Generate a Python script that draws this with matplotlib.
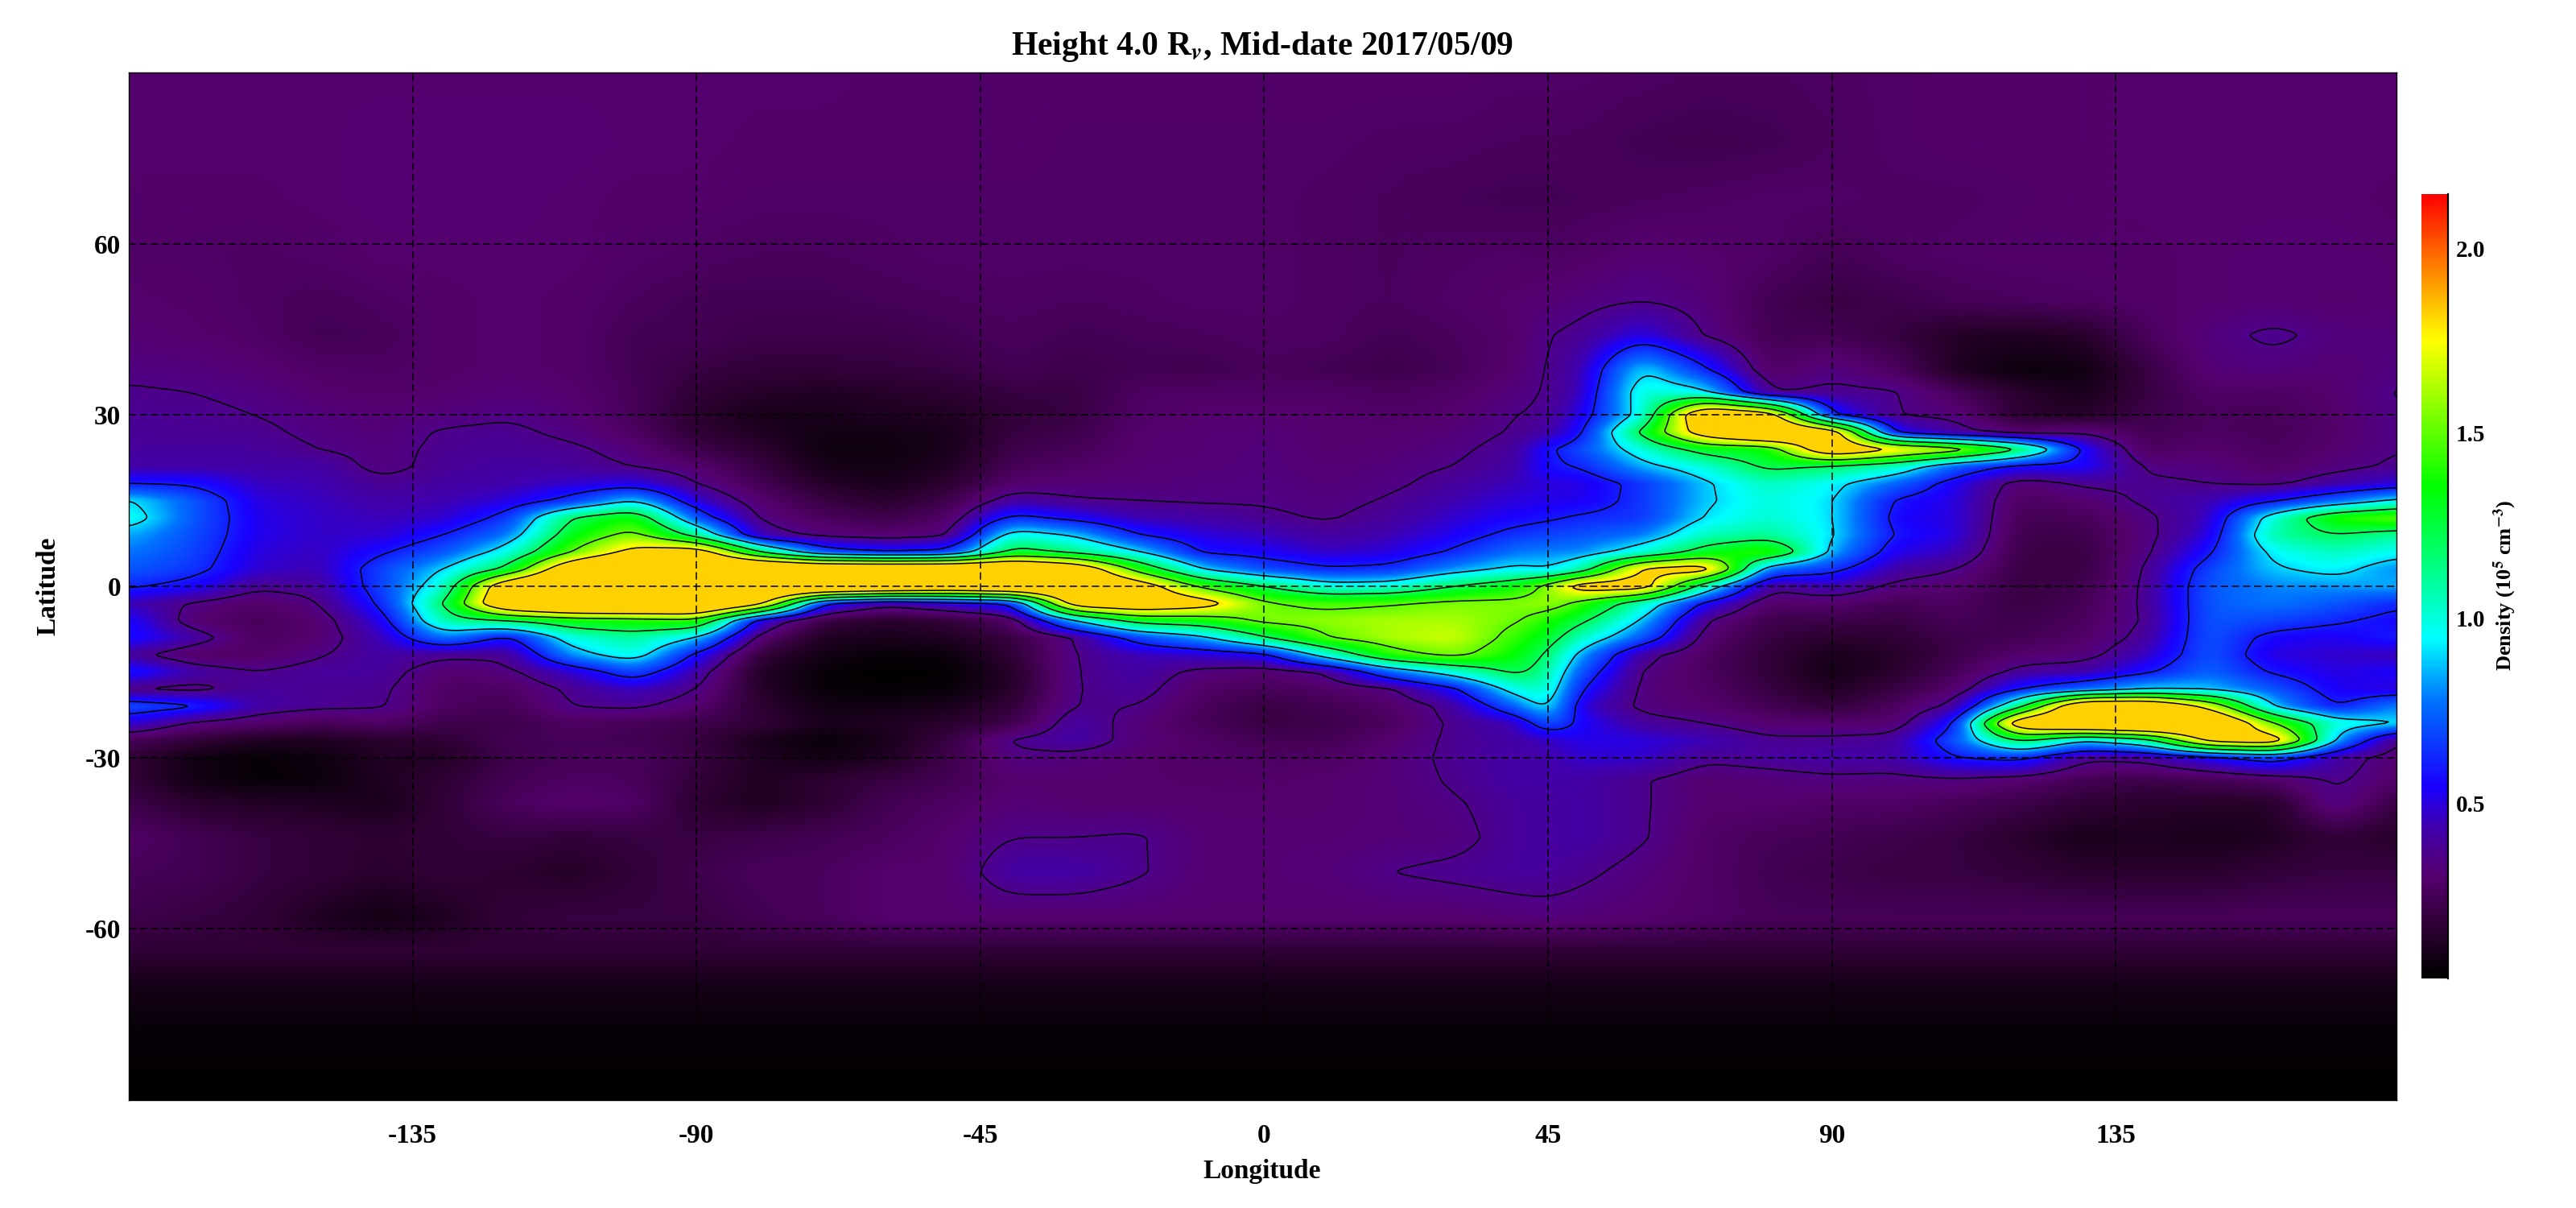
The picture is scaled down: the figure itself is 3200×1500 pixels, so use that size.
import numpy as np
import matplotlib
matplotlib.use('Agg')
import matplotlib.pyplot as plt
from matplotlib.colors import LinearSegmentedColormap

plt.rcParams['font.family'] = ['Liberation Serif', 'DejaVu Serif']
plt.rcParams['font.weight'] = 'bold'
plt.rcParams['mathtext.fontset'] = 'stix'
plt.rcParams['axes.unicode_minus'] = False

lons = [-180, -170, -160, -150, -140, -130, -120, -110, -100, -90, -80, -70, -60, -50, -40, -30, -20, -10,
        0, 10, 20, 30, 40, 45, 50, 60, 70, 80, 90, 100, 110, 120, 130, 140, 150, 160, 170, 180]
lats = [90, 78, 68, 58, 50, 44, 38, 34, 30, 27, 24, 21, 18, 15, 12, 9, 6, 3, 0,
        -3, -6, -9, -12, -15, -18, -21, -24, -27, -30, -34, -38, -44, -50, -58,
        -64, -70, -78, -90]
polar_cap = [.17, .09, .05, .03]

density_by_lon = [
    [.30,.30,.29,.28,.30,.31,.34,.37,.38, .39,.40,.42,.60,.92,.98,.85,.78,.72, .62,.45,.56,.58,.40,.60,.35,.70,.50, .25,.18,.18,.22,.28,.25,.22],
    [.30,.30,.29,.28,.29,.30,.33,.36,.38, .38,.40,.42,.58,.72,.72,.70,.68,.65, .55,.35,.30,.42,.28,.42,.33,.62,.34, .18,.08,.08,.15,.24,.24,.20],
    [.30,.30,.29,.27,.27,.28,.31,.34,.36, .38,.40,.42,.46,.50,.52,.52,.50,.48, .38,.28,.25,.26,.28,.36,.40,.42,.30, .12,.05,.05,.13,.20,.20,.18],
    [.30,.30,.30,.28,.25,.24,.28,.30,.33, .34,.36,.42,.44,.46,.47,.47,.46,.44, .40,.35,.30,.30,.35,.40,.38,.38,.25, .12,.07,.06,.12,.18,.18,.12],
    [.30,.31,.31,.30,.27,.25,.27,.29,.31, .32,.33,.33,.38,.42,.45,.48,.58,.68, .68,.62,.52,.45,.42,.40,.38,.37,.28, .15,.13,.12,.10,.16,.15,.08],
    [.30,.31,.31,.30,.29,.29,.29,.30,.33, .37,.38,.39,.41,.44,.48,.60,.72,.90, 1.02,1.2,1.1,.80,.38,.30,.27,.27,.22, .17,.13,.17,.18,.18,.18,.12],
    [.30,.31,.31,.30,.30,.30,.30,.32,.35, .38,.39,.41,.43,.50,.65,.78,.98,1.25, 2.1,2.2,1.2,.55,.38,.33,.27,.24,.22, .24,.22,.24,.26,.20,.16,.18],
    [.30,.31,.30,.30,.29,.29,.29,.30,.32, .34,.38,.40,.48,.65,1.2,1.32,1.5,2.1, 2.4,2.4,1.35,1.0,.82,.48,.38,.36,.27, .25,.25,.27,.30,.18,.13,.20],
    [.30,.30,.29,.28,.26,.24,.24,.25,.25, .27,.32,.36,.52,.92,1.38,1.58,1.9,2.4, 2.4,2.4,1.4,1.1,1.0,.70,.47,.38,.25, .24,.26,.26,.28,.20,.18,.20],
    [.30,.30,.29,.27,.24,.24,.20,.17,.15, .17,.22,.30,.36,.48,.70,1.12,2.0,2.4, 2.4,2.4,1.45,.90,.56,.42,.36,.30,.22, .20,.20,.18,.16,.20,.22,.20],
    [.30,.29,.28,.26,.24,.22,.18,.14,.10, .12,.16,.20,.24,.30,.34,.42,1.2,2.4, 2.4,1.9,.50,.30,.18,.13,.14,.16,.18, .10,.12,.12,.12,.22,.26,.24],
    [.30,.29,.28,.26,.24,.22,.18,.12,.10, .08,.07,.09,.14,.20,.26,.33,.70,2.3, 2.4,.60,.20,.12,.08,.05,.05,.08,.10, .05,.08,.16,.16,.24,.26,.26],
    [.29,.29,.28,.27,.25,.22,.19,.14,.12, .08,.07,.08,.10,.15,.22,.30,.60,2.3, 2.3,.40,.15,.10,.05,.03,.04,.08,.12, .10,.12,.20,.24,.26,.30,.30],
    [.29,.29,.28,.28,.26,.24,.20,.16,.12, .10,.10,.12,.16,.22,.28,.34,.65,2.3, 2.2,.50,.18,.12,.06,.04,.05,.10,.15, .20,.22,.24,.27,.30,.30,.30],
    [.29,.29,.28,.28,.27,.26,.24,.20,.18, .20,.22,.25,.30,.42,.65,1.0,1.3,2.3, 2.3,.60,.28,.20,.17,.14,.14,.18,.22, .37,.34,.30,.32,.36,.42,.30],
    [.29,.28,.28,.28,.26,.24,.22,.20,.20, .22,.25,.28,.32,.37,.55,.88,1.15,2.1, 2.3,2.0,.90,.36,.36,.36,.36,.37,.42, .42,.33,.30,.30,.36,.42,.30],
    [.29,.28,.28,.28,.27,.25,.24,.27,.28, .30,.30,.31,.32,.36,.44,.60,.92,1.4, 2.0,2.1,1.3,.68,.45,.42,.40,.36,.32, .32,.30,.30,.30,.37,.37,.30],
    [.29,.28,.28,.28,.28,.26,.23,.28,.30, .31,.31,.32,.33,.35,.42,.50,.58,.90, 1.45,1.95,1.35,.85,.48,.33,.28,.26,.25, .28,.28,.29,.30,.31,.31,.30],
    [.29,.28,.28,.28,.28,.27,.26,.28,.30, .32,.33,.33,.34,.35,.38,.46,.54,.70, 1.2,1.52,1.55,1.18,.55,.30,.25,.20,.20, .24,.27,.29,.30,.31,.31,.30],
    [.29,.28,.27,.27,.27,.27,.24,.28,.30, .30,.30,.31,.32,.33,.35,.40,.47,.62, .98,1.45,1.58,1.5,1.0,.37,.28,.24,.22, .24,.27,.30,.30,.31,.32,.30],
    [.29,.27,.26,.26,.26,.24,.22,.26,.28, .30,.31,.33,.34,.37,.40,.44,.50,.64, 1.0,1.48,1.62,1.62,1.42,.75,.34,.28,.26, .30,.32,.32,.32,.32,.36,.30],
    [.29,.27,.25,.27,.28,.26,.25,.28,.30, .32,.34,.36,.40,.44,.48,.53,.62,.82, 1.2,1.55,1.62,1.68,1.55,1.0,.56,.40,.38, .38,.38,.37,.35,.33,.38,.30],
    [.28,.26,.24,.28,.30,.29,.30,.33,.36, .37,.40,.42,.46,.50,.55,.65,.78,.95, 1.35,1.55,1.52,1.42,1.35,1.25,1.0,.75,.45, .42,.42,.42,.40,.40,.40,.32],
    [.28,.26,.24,.27,.31,.36,.37,.37,.38, .42,.58,.58,.50,.52,.58,.68,.80,.90, 1.55,1.60,1.40,1.30,1.18,1.10,1.05,.98,.75, .46,.42,.42,.40,.40,.40,.33],
    [.28,.26,.25,.28,.33,.38,.42,.44,.50, .55,.68,.60,.50,.52,.62,.70,.80,1.05, 1.95,1.45,1.25,1.05,.85,.72,.60,.50,.55, .52,.48,.42,.42,.42,.38,.32],
    [.27,.24,.26,.31,.36,.52,.92,1.02,.98, 1.25,1.0,.85,.65,.65,.65,.78,1.0,1.85, 1.95,1.05,.88,.72,.40,.34,.33,.33,.40, .50,.48,.37,.37,.37,.33,.30],
    [.26,.23,.27,.30,.32,.35,.62,.95,2.2, 2.0,1.3,1.0,.88,.88,.92,1.05,1.3,1.95, 1.05,.55,.36,.30,.27,.27,.28,.30,.36, .45,.38,.30,.30,.28,.28,.28],
    [.26,.24,.28,.28,.24,.24,.27,.36,2.0, 2.3,1.35,1.25,1.05,1.0,1.02,1.12,1.45,.75, .38,.28,.22,.20,.18,.18,.20,.24,.30, .38,.40,.32,.30,.25,.24,.25],
    [.27,.26,.28,.24,.20,.24,.34,.38,.60, 2.0,2.1,1.18,.95,.92,.92,.92,.85,.65, .45,.30,.22,.15,.10,.09,.12,.18,.30, .38,.42,.34,.28,.24,.22,.25],
    [.28,.28,.27,.27,.22,.20,.27,.37,.36, .55,1.8,1.05,.75,.58,.55,.58,.52,.42, .33,.25,.20,.17,.14,.15,.20,.26,.30, .40,.42,.33,.28,.22,.20,.25],
    [.29,.29,.27,.28,.25,.13,.12,.25,.33, .40,1.6,.72,.52,.50,.50,.50,.45,.36, .30,.27,.25,.22,.22,.25,.30,.40,.60, .72,.60,.34,.25,.20,.20,.25],
    [.29,.29,.28,.29,.26,.12,.06,.15,.16, .30,1.2,.55,.30,.26,.24,.22,.21,.20, .20,.20,.22,.24,.30,.40,.60,1.15,2.1, 1.25,.65,.30,.22,.15,.18,.25],
    [.29,.29,.29,.29,.27,.14,.07,.10,.14, .34,.55,.55,.38,.30,.25,.22,.20,.20, .22,.24,.26,.28,.32,.42,.75,2.2,2.3, .90,.38,.24,.17,.10,.15,.25],
    [.30,.30,.30,.29,.29,.26,.20,.20,.22, .24,.26,.34,.38,.38,.34,.33,.34,.37, .38,.38,.37,.40,.46,.58,.90,2.2,2.4, 1.1,.40,.22,.15,.12,.15,.25],
    [.30,.30,.30,.30,.30,.33,.32,.28,.26, .27,.30,.33,.36,.44,.46,.50,.58,.68, .72,.72,.72,.72,.72,.75,.88,1.7,2.3, 1.9,.55,.24,.14,.10,.15,.25],
    [.30,.30,.30,.31,.31,.38,.33,.27,.25, .25,.26,.28,.34,.58,1.0,1.08,.95,.88, .80,.78,.68,.55,.50,.58,.72,.88,1.5, 2.0,.70,.28,.14,.12,.18,.26],
    [.30,.30,.30,.31,.30,.33,.31,.30,.29, .29,.30,.33,.42,.75,1.4,1.2,1.05,.95, .82,.72,.62,.52,.48,.50,.53,.58,1.0, .85,.42,.38,.36,.18,.20,.26],
    [.30,.30,.29,.30,.31,.33,.34,.37,.36, .36,.36,.38,.50,.95,1.5,1.1,.95,.80, .85,.62,.55,.60,.45,.55,.50,.80,.90, .33,.30,.28,.20,.14,.20,.26],
]

levels = [.36, .6, .9, 1.2, 1.5, 1.8]
xticks = [-135, -90, -45, 0, 45, 90, 135]
yticks = [-60, -30, 0, 30, 60]
cbar_ticks = [.5, 1.0, 1.5, 2.0]
vmin, vmax, saturation = .026, 2.146, 1.82

color_stops = [(0, '#000000'), (.065, '#2e0033'), (.13, '#560070'), (.16, '#4d008c'), (.194, '#4000b0'),
               (.244, '#1a00ff'), (.354, '#0073ff'), (.434, '#00ffff'), (.527, '#00ff80'),
               (.627, '#00ff00'), (.814, '#ffff00'), (.908, '#ff8000'), (1, '#ff0000')]
cmap = LinearSegmentedColormap.from_list('density', color_stops, N=512)


def box_blur(campo, ancho, eje):
    # suavizado solo para dibujar, la rejilla leida es gruesa
    kernel = np.ones(ancho) / ancho
    def pasada(v):
        v = np.pad(v, ancho, mode='edge')
        return np.convolve(v, kernel, mode='same')[ancho:-ancho]
    return np.apply_along_axis(pasada, eje, campo)


grid = np.array([col + polar_cap for col in density_by_lon]).T
lat_asc = np.array(lats[::-1])
grid = grid[::-1]

fine_lon = np.arange(-180, 180.01, .5)
fine_lat = np.arange(-90, 90.01, .25)
by_lat = np.array([np.interp(fine_lat, lat_asc, grid[:, j]) for j in range(grid.shape[1])]).T
field = np.array([np.interp(fine_lon, lons, by_lat[i]) for i in range(by_lat.shape[0])])
for _ in range(2):
    field = box_blur(field, 9, 1)
    field = box_blur(field, 3, 0)

fig = plt.figure(figsize=(16, 7.5), dpi=200)
ax = fig.add_axes([160 / 3200, 1 - 1366 / 1500, 2817 / 3200, 1276 / 1500])
ax.imshow(np.minimum(field, saturation), extent=[-180, 180, -90, 90], origin='lower', aspect='auto',
          cmap=cmap, vmin=vmin, vmax=vmax, interpolation='bilinear')
ax.contour(fine_lon, fine_lat, field, levels=levels, colors='black', linewidths=.55, linestyles='solid')
ax.set_xlim(-180, 179.5)
ax.set_ylim(-90, 90)
ax.set_xticks(xticks)
ax.set_yticks(yticks)
ax.tick_params(length=0, labelsize=12)
ax.tick_params(axis='x', pad=10.5)
ax.tick_params(axis='y', pad=3.5)
ax.set_axisbelow(False)
ax.grid(True, color='black', linewidth=.55, linestyle=(0, (6, 3)))
for s in ax.spines.values():
    s.set_linewidth(.5)

fig.text(1568 / 3200, 1 - 68 / 1500, r'Height 4.0 R$_{\mathit{v}}$, Mid-date 2017/05/09', ha='center', va='baseline', fontsize=15)
fig.text(1568 / 3200, 1 - 1455 / 1500, 'Longitude', ha='center', va='center', fontsize=12)
fig.text(60 / 3200, 1 - 728 / 1500, 'Latitude', ha='center', va='center', rotation=90, fontsize=12)

# barra de color
cax = fig.add_axes([3008 / 3200, 1 - 1215 / 1500, 33 / 3200, 974 / 1500])
cax.imshow(np.linspace(vmin, vmax, 512)[:, None], extent=[0, 1, vmin, vmax], origin='lower', aspect='auto',
           cmap=cmap, vmin=vmin, vmax=vmax)
cax.set_xticks([])
cax.yaxis.tick_right()
cax.set_yticks(cbar_ticks)
cax.set_yticklabels(['%.1f' % t for t in cbar_ticks])
cax.tick_params(length=0, labelsize=10.5, pad=3.5)
for k, s in cax.spines.items():
    s.set_visible(k == 'right')
cax.spines['right'].set_linewidth(.8)
fig.text(3112 / 3200, 1 - 727 / 1500, r'Density (10$^{\mathbf{5}}$ cm$^{\mathbf{-3}}$)', ha='center', va='center',
         rotation=90, fontsize=9.5)

fig.savefig('out.png', dpi=200)
